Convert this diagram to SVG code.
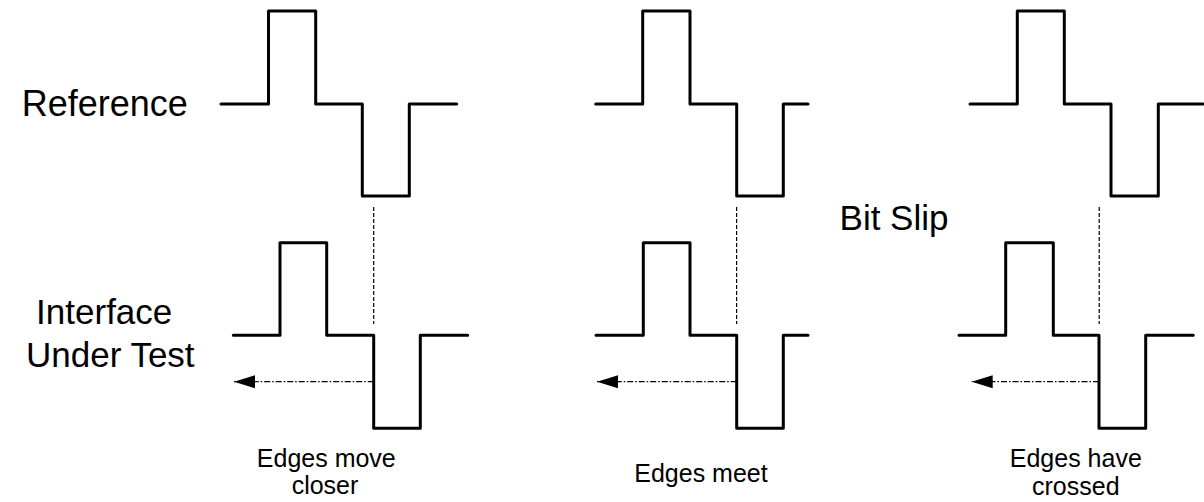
<svg xmlns="http://www.w3.org/2000/svg" width="1204" height="502" viewBox="0 0 1204 502">
  <style>
    .wave { fill: none; stroke: #000; stroke-width: 3; stroke-linejoin: round; stroke-linecap: round; }
    .guide { fill: none; stroke: #000; stroke-width: 1.2; stroke-dasharray: 4 2; }
    .shift { fill: none; stroke: #000; stroke-width: 1.3; stroke-dasharray: 6 2 1.5 2; }
    .lbl { font-family: "Liberation Sans", Arial, sans-serif; fill: #000; text-anchor: middle; }
    .big { font-size: 35px; }
    .small { font-size: 25px; }
  </style>
  <defs>
    <marker id="head" markerUnits="userSpaceOnUse" markerWidth="22" markerHeight="14" refX="21" refY="7" orient="auto">
      <path d="M0,0.5 L21,7 L0,13.5 Z" fill="#000"/>
    </marker>
  </defs>

  <rect width="1204" height="502" fill="#fff"/>

  <!-- row labels -->
  <g id="label-reference">
    <text class="lbl" x="104.7" y="115.7" font-size="36">Reference</text>
  </g>
  <g id="label-iut">
    <text class="lbl big" x="104.2" y="324.3">Interface</text>
    <text class="lbl big" x="110.3" y="367.3">Under Test</text>
  </g>
  <g id="label-bitslip">
    <text class="lbl big" x="894" y="230">Bit Slip</text>
  </g>

  <!-- panel 1: edges move closer -->
  <g id="panel1">
    <path class="wave" d="M221,104 H268.5 V11 H315.7 V104 H362.3 V196 H409.3 V104 H456.7"/>
    <path class="wave" d="M233.3,335.3 H280 V242.7 H326.7 V335.3 H373.7 V428.3 H420.3 V335.3 H467.7"/>
    <text class="lbl small" x="326.3" y="466.7">Edges move</text>
    <text class="lbl small" x="325" y="494.3">closer</text>
  </g>

  <!-- panel 2: edges meet -->
  <g id="panel2">
    <path class="wave" d="M595.7,104 H642.7 V11 H690 V104 H736.7 V196 H783.3 V104 H808"/>
    <path class="wave" d="M596,335.3 H643.3 V242.7 H690 V335.3 H736.7 V428.3 H783.3 V335.3 H808"/>
    <text class="lbl small" x="701" y="481.5">Edges meet</text>
  </g>

  <!-- panel 3: edges have crossed -->
  <g id="panel3">
    <path class="wave" d="M970,104 H1017.3 V11 H1064.3 V104 H1111 V196 H1158.3 V104 H1203"/>
    <path class="wave" d="M959,335.3 H1005.7 V242.7 H1053.3 V335.3 H1099 V428.3 H1145.7 V335.3 H1193.3"/>
    <text class="lbl small" x="1075.8" y="466.7">Edges have</text>
    <text class="lbl small" x="1075.8" y="495">crossed</text>
  </g>

  <!-- alignment guides and shift arrows -->
  <g id="connectors">
    <line class="guide" x1="373.7" y1="207" x2="373.7" y2="324"/>
    <line class="guide" x1="736.6" y1="207" x2="736.6" y2="324"/>
    <line class="guide" x1="1099.2" y1="207" x2="1099.2" y2="324"/>
    <line class="shift" x1="373.7" y1="381.7" x2="234" y2="381.7" marker-end="url(#head)"/>
    <line class="shift" x1="736.7" y1="381.7" x2="597" y2="381.7" marker-end="url(#head)"/>
    <line class="shift" x1="1099" y1="381.7" x2="971.7" y2="381.7" marker-end="url(#head)"/>
  </g>
</svg>
